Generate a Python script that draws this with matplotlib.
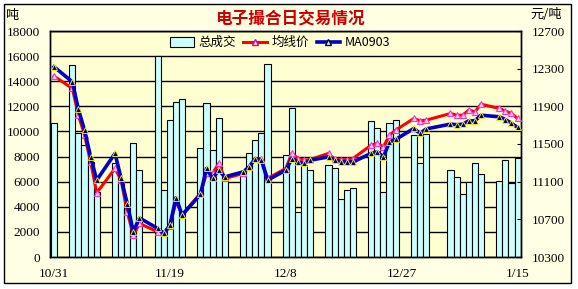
import matplotlib
matplotlib.use('Agg')
import matplotlib.pyplot as plt
import matplotlib.dates as mdates
from matplotlib.patches import Rectangle, Patch
from matplotlib.lines import Line2D
from datetime import datetime

CJK = ['Noto Sans CJK SC', 'DejaVu Sans']
NUM_FONT = 'Liberation Serif'

# trading days (2008-10-31 .. 2009-01-15)
days = ['2008-10-31',
        '2008-11-03', '2008-11-04', '2008-11-05', '2008-11-06', '2008-11-07',
        '2008-11-10', '2008-11-11', '2008-11-12', '2008-11-13', '2008-11-14',
        '2008-11-17', '2008-11-18', '2008-11-19', '2008-11-20', '2008-11-21',
        '2008-11-24', '2008-11-25', '2008-11-26', '2008-11-27', '2008-11-28',
        '2008-12-01', '2008-12-02', '2008-12-03', '2008-12-04', '2008-12-05',
        '2008-12-08', '2008-12-09', '2008-12-10', '2008-12-11', '2008-12-12',
        '2008-12-15', '2008-12-16', '2008-12-17', '2008-12-18', '2008-12-19',
        '2008-12-22', '2008-12-23', '2008-12-24', '2008-12-25', '2008-12-26',
        '2008-12-29', '2008-12-30', '2008-12-31',
        '2009-01-04', '2009-01-05', '2009-01-06', '2009-01-07', '2009-01-08', '2009-01-09',
        '2009-01-12', '2009-01-13', '2009-01-14', '2009-01-15']

# 总成交 (吨)
volume = [10700,
          15300, 9900, 8900, 7550, 5200,
          7500, 6000, 4000, 9050, 6900,
          16000, 5350, 10950, 12350, 12550,
          8700, 12250, 8500, 11050, 6300,
          6700, 8250, 9350, 9850, 15350,
          8150, 11900, 3600, 7300, 6950,
          7300, 7050, 4650, 5300, 5500,
          10800, 10300, 5150, 10700, 10900,
          9700, 7450, 9800,
          6950, 6400, 5000, 5950, 7500, 6650,
          6050, 7750, 5900, 7850]

# 均线价 (元/吨)
avg_price = [12221,
             12090, 11807, 11594, 11310, 10981,
             11240, 11116, 10779, 10532, 10656,
             10567, 10550, 10627, 10890, 10750,
             10975, 11187, 11187, 11293, 11134,
             11187, 11257, 11346, 11346, 11134,
             11240, 11400, 11346, 11328, 11335,
             11400, 11340, 11335, 11335, 11346,
             11488, 11506, 11470, 11594, 11647,
             11771, 11746, 11753,
             11824, 11806, 11806, 11860, 11842, 11923,
             11878, 11850, 11824, 11771]

# MA0903 (元/吨)
ma0903 = [12320,
          12160, 11867, 11647, 11363, 11116,
          11400, 11134, 10868, 10567, 10715,
          10603, 10550, 10638, 10930, 10744,
          10965, 11240, 11134, 11222, 11151,
          11204, 11257, 11346, 11328, 11116,
          11222, 11346, 11310, 11293, 11328,
          11363, 11330, 11310, 11310, 11310,
          11400, 11417, 11363, 11523, 11548,
          11665, 11612, 11660,
          11711, 11705, 11711, 11746, 11746, 11806,
          11789, 11760, 11720, 11676]

tick_days = ['2008-10-31', '2008-11-19', '2008-12-08', '2008-12-27', '2009-01-15']
tick_labels = ['10/31', '11/19', '12/8', '12/27', '1/15']

x = [mdates.date2num(datetime.fromisoformat(d)) for d in days]
xt = [mdates.date2num(datetime.fromisoformat(d)) for d in tick_days]

W, H = 578, 289
fig = plt.figure(figsize=(W / 100, H / 100), dpi=100, facecolor='white')

# outer frame
frame = Rectangle((4 / W, 1 - 283 / H), 567 / W, 279 / H, transform=fig.transFigure,
                  facecolor='#FFFFE3', edgecolor='black', lw=1.0, zorder=-10)
fig.patches.append(frame)

ax = fig.add_axes([50 / W, 1 - 257 / H, 471 / W, 226 / H])
ax.set_facecolor('#FFFFD2')
ax.set_axisbelow(True)

ax.bar(x, volume, width=1.0, color='#CCFFFF', edgecolor='black', linewidth=0.8, zorder=2)

ax.set_ylim(0, 18000)
ax.set_yticks(range(0, 18001, 2000))
ax.grid(True, axis='y', color='black', lw=1.0)
ax.set_xlim(x[0] - 0.66, x[0] + 76.56)
ax.set_xticks(xt)
ax.set_xticklabels(tick_labels)
ax.tick_params(axis='x', length=0, pad=8)
ax.tick_params(axis='y', length=0, pad=7)
for lab in ax.get_xticklabels() + ax.get_yticklabels():
    lab.set_fontfamily(NUM_FONT)
    lab.set_fontsize(9.5)
for s in ax.spines.values():
    s.set_color('black')
    s.set_linewidth(1.0)

ax2 = ax.twinx()
ax2.plot(x, avg_price, color='#FF0000', lw=2.2, marker='^', ms=5,
         mfc='#FFCCFF', mec='#FF33CC', mew=0.8, zorder=3)
ax2.plot(x, ma0903, color='#0000C8', lw=2.6, marker='^', ms=5,
         mfc='#000080', mec='#FFFF00', mew=0.6, zorder=4)
ax2.set_ylim(10300, 12700)
ax2.set_yticks(range(10300, 12701, 400))
ax2.tick_params(axis='y', direction='in', length=3, pad=8, color='black')
for lab in ax2.get_yticklabels():
    lab.set_fontfamily(NUM_FONT)
    lab.set_fontsize(9.5)
for s in ax2.spines.values():
    s.set_color('black')
    s.set_linewidth(1.0)

handles = [Patch(facecolor='#CCFFFF', edgecolor='black', lw=0.8),
           Line2D([], [], color='#FF0000', lw=2.2, marker='^', ms=4, mfc='#FFFF66', mec='#CC00CC'),
           Line2D([], [], color='#0000C8', lw=2.6, marker='^', ms=4, mfc='#FFFF66', mec='#000080')]
leg = ax2.legend(handles, ['总成交', '均线价', 'MA0903'], loc='center', bbox_to_anchor=(0.489, 0.948),
                 ncol=3, frameon=False, prop={'family': CJK, 'size': 9},
                 handlelength=1.9, handletextpad=0.35, columnspacing=0.6, handleheight=0.8)

fig.text(290 / W, 1 - 18 / H, '电子撮合日交易情况', family=CJK, fontsize=12, fontweight='bold',
         color='#CC0000', ha='center', va='center')
fig.text(11.5 / W, 1 - 15 / H, '吨', family=CJK, fontsize=9.5, ha='center', va='center')
fig.text(546 / W, 1 - 15 / H, '元/吨', family=CJK, fontsize=9.5, ha='center', va='center')

fig.savefig('out.png', dpi=100, facecolor=fig.get_facecolor())
